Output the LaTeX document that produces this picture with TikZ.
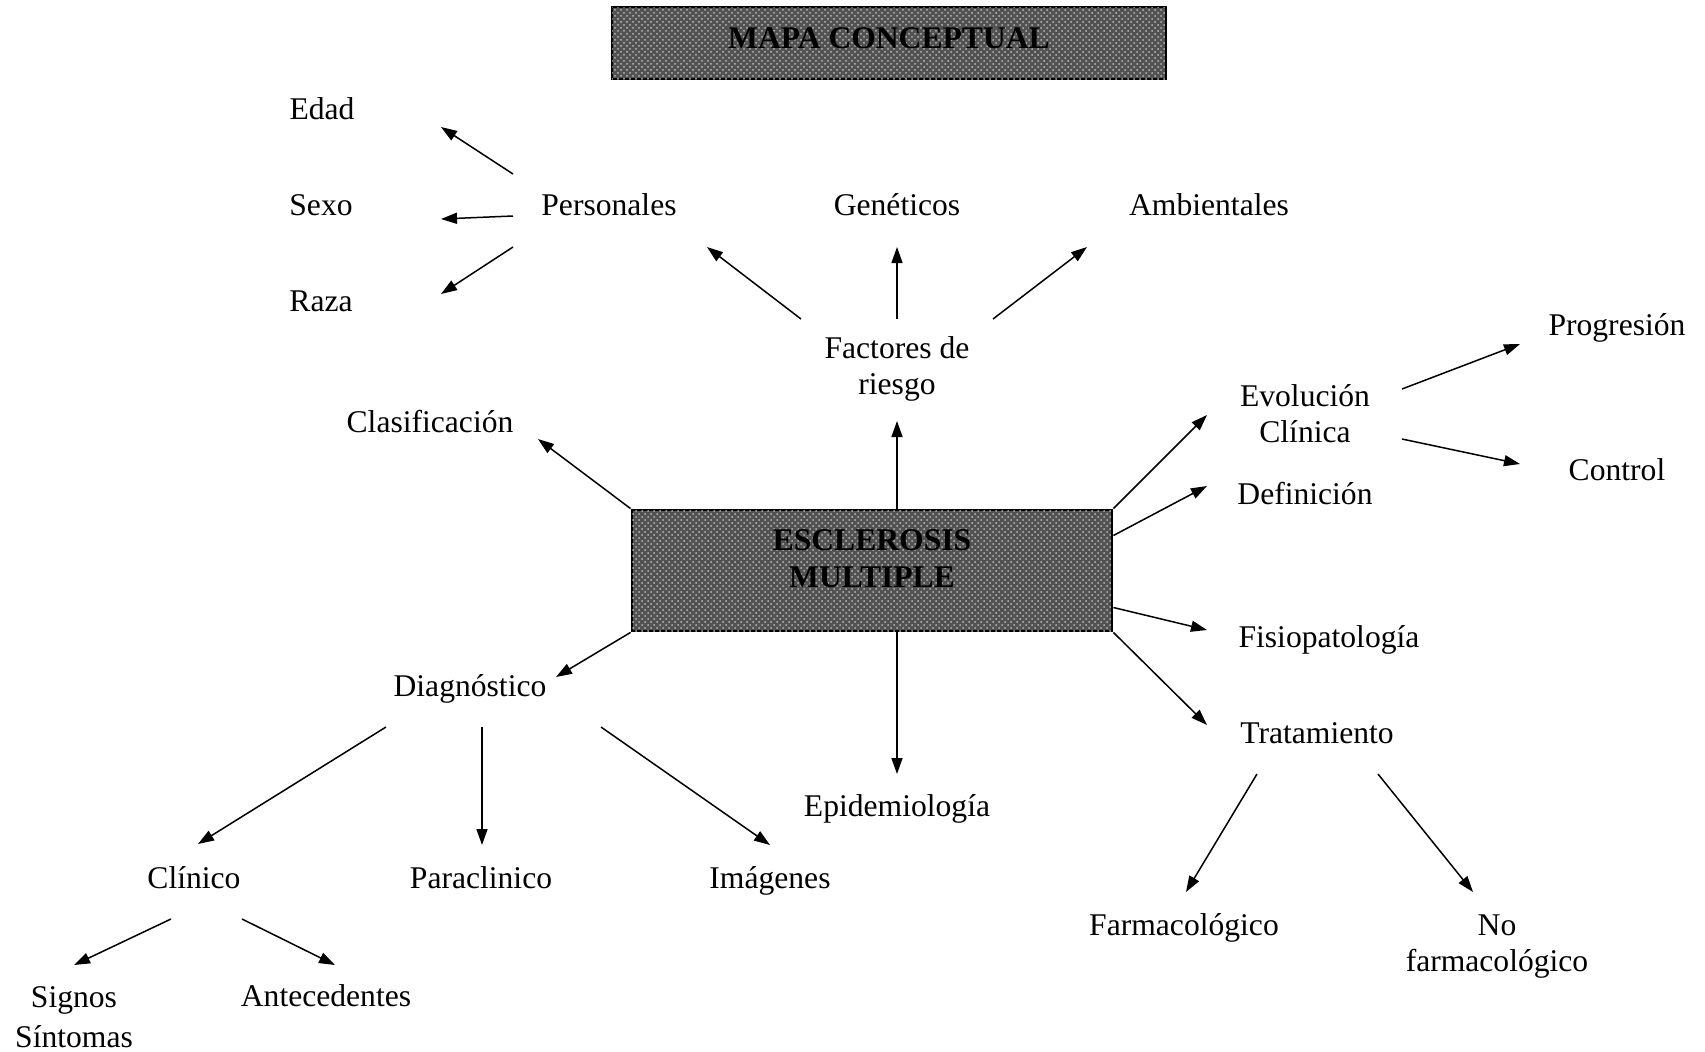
\documentclass[tikz,border=0pt]{standalone}
\usepackage{fontspec}
\setmainfont{Liberation Serif}
\usetikzlibrary{arrows.meta,patterns}
\begin{document}
\begin{tikzpicture}[x=0.5pt,y=-0.5pt,
  lbl/.style={font=\fontsize{15.8}{18}\selectfont, align=center, inner sep=0pt, text depth=0pt},
  hatchbox/.style={draw=black, line width=1.4pt, fill=black!68,
     postaction={pattern=crosshatch dots, pattern color=gray!55},
     font=\fontsize{15.8}{18.5}\selectfont\bfseries, align=center, inner sep=0pt},
  arr/.style={line width=0.75pt, -{Triangle[length=8pt,width=5.5pt]}}
]
\useasboundingbox (0,0) rectangle (1705,1051);
% boxes
\node[hatchbox, minimum width=277pt, minimum height=36pt] (title) at (889,43)
  {\raisebox{-2.7pt}[0pt][0pt]{MAPA CONCEPTUAL}};
\node[hatchbox, minimum width=240pt, minimum height=60.5pt] (em) at (872,570.5)
  {\raisebox{-8.45pt}[0pt][0pt]{\begin{tabular}[b]{@{}c@{}}ESCLEROSIS\\MULTIPLE\end{tabular}}};
% labels
\node[lbl] (edad) at (322,109) {Edad};
\node[lbl] (sexo) at (321,205) {Sexo};
\node[lbl] (raza) at (321,301) {Raza};
\node[lbl] (pers) at (609,205) {Personales};
\node[lbl] (gen) at (897,205) {Genéticos};
\node[lbl] (amb) at (1209,205) {Ambientales};
\node[lbl] (fact) at (897,366) {Factores de\\riesgo};
\node[lbl] (clas) at (430,421) {Clasificación};
\node[lbl] (evo) at (1305,414) {Evolución\\Clínica};
\node[lbl] (prog) at (1617,325) {Progresión};
\node[lbl] (ctrl) at (1617,470) {Control};
\node[lbl] (def) at (1305,493) {Definición};
\node[lbl] (fisio) at (1329,637) {Fisiopatología};
\node[lbl] (trat) at (1317,733) {Tratamiento};
\node[lbl] (diag) at (470,686) {Diagnóstico};
\node[lbl] (epid) at (897,806) {Epidemiología};
\node[lbl] (clin) at (194,878) {Clínico};
\node[lbl] (para) at (481,878) {Paraclinico};
\node[lbl] (img) at (770,878) {Imágenes};
\node[lbl] (farm) at (1184,925) {Farmacológico};
\node[lbl] (nofarm) at (1497,943) {No\\farmacológico};
\node[lbl, font=\fontsize{15.8}{19.6}\selectfont] (signos) at (74,1017) {Signos\\Síntomas};
\node[lbl] (ante) at (326,996) {Antecedentes};
% connectors
\draw[arr] ([shift={(-96,-31)}]pers.center) -- ([shift={(119,18)}]edad.center);
\draw[arr] ([shift={(-96,11)}]pers.center) -- ([shift={(120,14)}]sexo.center);
\draw[arr] ([shift={(-96,42)}]pers.center) -- ([shift={(120,-7)}]raza.center);
\draw[arr] ([shift={(-96,-47)}]fact.center) -- ([shift={(98,42)}]pers.center);
\draw[arr] ([shift={(0,-47)}]fact.center) -- ([shift={(0,42)}]gen.center);
\draw[arr] ([shift={(96,-47)}]fact.center) -- ([shift={(-122,42)}]amb.center);
\draw[arr] ([shift={(25,0)}]em.north) -- ([shift={(0,55)}]fact.center);
\draw[arr] (em.north west) -- ([shift={(108,18)}]clas.center);
\draw[arr] (em.north east) -- ([shift={(-98,1)}]evo.center);
\draw[arr] ([shift={(0,-35)}]em.east) -- ([shift={(-98,-7)}]def.center);
\draw[arr] ([shift={(0,37)}]em.east) -- ([shift={(-122,-7)}]fisio.center);
\draw[arr] (em.south east) -- ([shift={(-110,-8)}]trat.center);
\draw[arr] (em.south west) -- ([shift={(86,-9)}]diag.center);
\draw[arr] ([shift={(25,0)}]em.south) -- ([shift={(0,-32)}]epid.center);
\draw[arr] ([shift={(97,-25)}]evo.center) -- ([shift={(-97,19)}]prog.center);
\draw[arr] ([shift={(97,25)}]evo.center) -- ([shift={(-97,-6)}]ctrl.center);
\draw[arr] ([shift={(-84,41)}]diag.center) -- ([shift={(4,-34)}]clin.center);
\draw[arr] ([shift={(12,41)}]diag.center) -- ([shift={(1,-33)}]para.center);
\draw[arr] ([shift={(131,41)}]diag.center) -- ([shift={(0,-33)}]img.center);
\draw[arr] ([shift={(-23,41)}]clin.center) -- ([shift={(0,-52)}]signos.center);
\draw[arr] ([shift={(48,41)}]clin.center) -- ([shift={(9,-31)}]ante.center);
\draw[arr] ([shift={(-60,41)}]trat.center) -- ([shift={(2,-33)}]farm.center);
\draw[arr] ([shift={(61,41)}]trat.center) -- ([shift={(-24,-51)}]nofarm.center);
\end{tikzpicture}
\end{document}
